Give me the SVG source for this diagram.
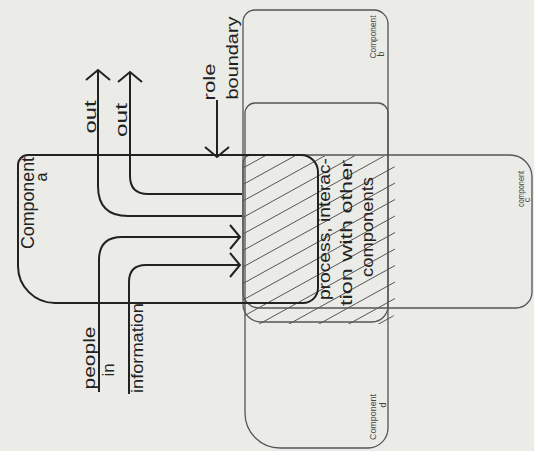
<svg xmlns="http://www.w3.org/2000/svg" width="534" height="451" viewBox="0 0 534 451">
<style>
.bg{fill:#ebebe7}
.comp{fill:none;stroke:#555;stroke-width:1.3}
.compA{fill:none;stroke:#222;stroke-width:2}
.hatch line{stroke:#555;stroke-width:1}
.flow{fill:none;stroke:#222;stroke-width:2;marker-end:url(#open)}
.t{font-family:"Liberation Sans","DejaVu Sans",sans-serif;fill:#222;text-anchor:middle}
.big{font-size:17px}
.mid{font-size:16px}
.small{font-size:9px;fill:#444}
</style>
<defs>
<marker id="open" markerUnits="userSpaceOnUse" markerWidth="30" markerHeight="30" refX="0" refY="0" viewBox="-15 -15 30 30" orient="auto" overflow="visible">
<path d="M-10,-12 L0,0 L-10,12" fill="none" stroke="#222" stroke-width="2"/>
</marker>
<clipPath id="hclip"><rect x="243" y="156" width="152" height="168" rx="14"/></clipPath>
</defs>
<rect class="bg" x="0" y="0" width="534" height="451"/>

<g id="component-b">
<path class="comp" d="M257,10 H374 A14,14 0 0 1 388,24 V306 A16,16 0 0 1 372,322 H261 A18,18 0 0 1 243,304 V22 A12,12 0 0 1 255,10 Z"/>
<text class="t small" transform="translate(376,37) rotate(-90)" textLength="43" lengthAdjust="spacingAndGlyphs">Component</text>
<text class="t small" transform="translate(384,54) rotate(-90)">b</text>
</g>
<g id="component-d">
<path class="comp" d="M255,103 H378 A10,10 0 0 1 388,113 V428 A20,20 0 0 1 368,448 H280 A35,35 0 0 1 245,413 V113 A10,10 0 0 1 255,103 Z"/>
<text class="t small" transform="translate(376,417) rotate(-90)" textLength="46" lengthAdjust="spacingAndGlyphs">Component</text>
<text class="t small" transform="translate(386,405) rotate(-90)">d</text>
</g>
<g id="component-c">
<path class="comp" d="M251,155 H510 A22,22 0 0 1 532,177 V292 A16,16 0 0 1 516,308 H259 A16,16 0 0 1 243,292 V163 A8,8 0 0 1 251,155 Z"/>
<text class="t small" transform="translate(524,189) rotate(-90)" textLength="36" lengthAdjust="spacingAndGlyphs">component</text>
<text class="t small" transform="translate(530,200) rotate(-90)">c</text>
</g>

<g id="process">
<g class="hatch" clip-path="url(#hclip)">
<line x1="243" y1="168" x2="395" y2="84"/>
<line x1="243" y1="184.5" x2="395" y2="100.5"/>
<line x1="243" y1="201" x2="395" y2="117"/>
<line x1="243" y1="217.5" x2="395" y2="133.5"/>
<line x1="243" y1="234" x2="395" y2="150"/>
<line x1="243" y1="250.5" x2="395" y2="166.5"/>
<line x1="243" y1="267" x2="395" y2="183"/>
<line x1="243" y1="283.5" x2="395" y2="199.5"/>
<line x1="243" y1="300" x2="395" y2="216"/>
<line x1="243" y1="316.5" x2="395" y2="232.5"/>
<line x1="243" y1="333" x2="395" y2="249"/>
<line x1="243" y1="349.5" x2="395" y2="265.5"/>
<line x1="243" y1="366" x2="395" y2="282"/>
<line x1="243" y1="382.5" x2="395" y2="298.5"/>
<line x1="243" y1="399" x2="395" y2="315"/>
</g>
<text class="t mid" transform="translate(330,229) rotate(-90)" textLength="142" lengthAdjust="spacingAndGlyphs">process, interac-</text>
<text class="t mid" transform="translate(352,233) rotate(-90)" textLength="146" lengthAdjust="spacingAndGlyphs">tion with other</text>
<text class="t mid" transform="translate(373,227) rotate(-90)" textLength="100" lengthAdjust="spacingAndGlyphs">components</text>
</g>

<g id="component-a">
<path class="compA" d="M28,155 H301 A17,17 0 0 1 318,172 V288 A15,15 0 0 1 303,303 H55 A37,37 0 0 1 18,266 V165 A10,10 0 0 1 28,155 Z"/>
<text class="t" style="font-size:18px" transform="translate(34,203) rotate(-90)" textLength="92" lengthAdjust="spacingAndGlyphs">Component</text>
<text class="t" style="font-size:16px" transform="translate(47,177) rotate(-90)">a</text>
</g>

<g id="connectors">
<path class="flow" d="M242,216 H128 Q98,216 98,186 V70"/>
<path class="flow" d="M242,194 H148 Q130,194 130,176 V72"/>
<path class="flow" d="M99,392 V260 Q99,237 122,237 H240"/>
<path class="flow" d="M129,394 V282 Q129,265 146,265 H240"/>
<path class="flow" d="M217,100 V157"/>
</g>

<g id="labels">
<text class="t big" transform="translate(96,117) rotate(-90)" textLength="33" lengthAdjust="spacingAndGlyphs">out</text>
<text class="t big" transform="translate(127,120) rotate(-90)" textLength="34" lengthAdjust="spacingAndGlyphs">out</text>
<text class="t big" transform="translate(215,82) rotate(-90)" textLength="37" lengthAdjust="spacingAndGlyphs">role</text>
<text class="t big" transform="translate(238,58) rotate(-90)" textLength="83" lengthAdjust="spacingAndGlyphs">boundary</text>
<text class="t big" transform="translate(95,358) rotate(-90)" textLength="63" lengthAdjust="spacingAndGlyphs">people</text>
<text class="t big" transform="translate(114,370) rotate(-90)">in</text>
<text class="t big" transform="translate(143,348) rotate(-90)" textLength="90" lengthAdjust="spacingAndGlyphs">information</text>
</g>
</svg>
